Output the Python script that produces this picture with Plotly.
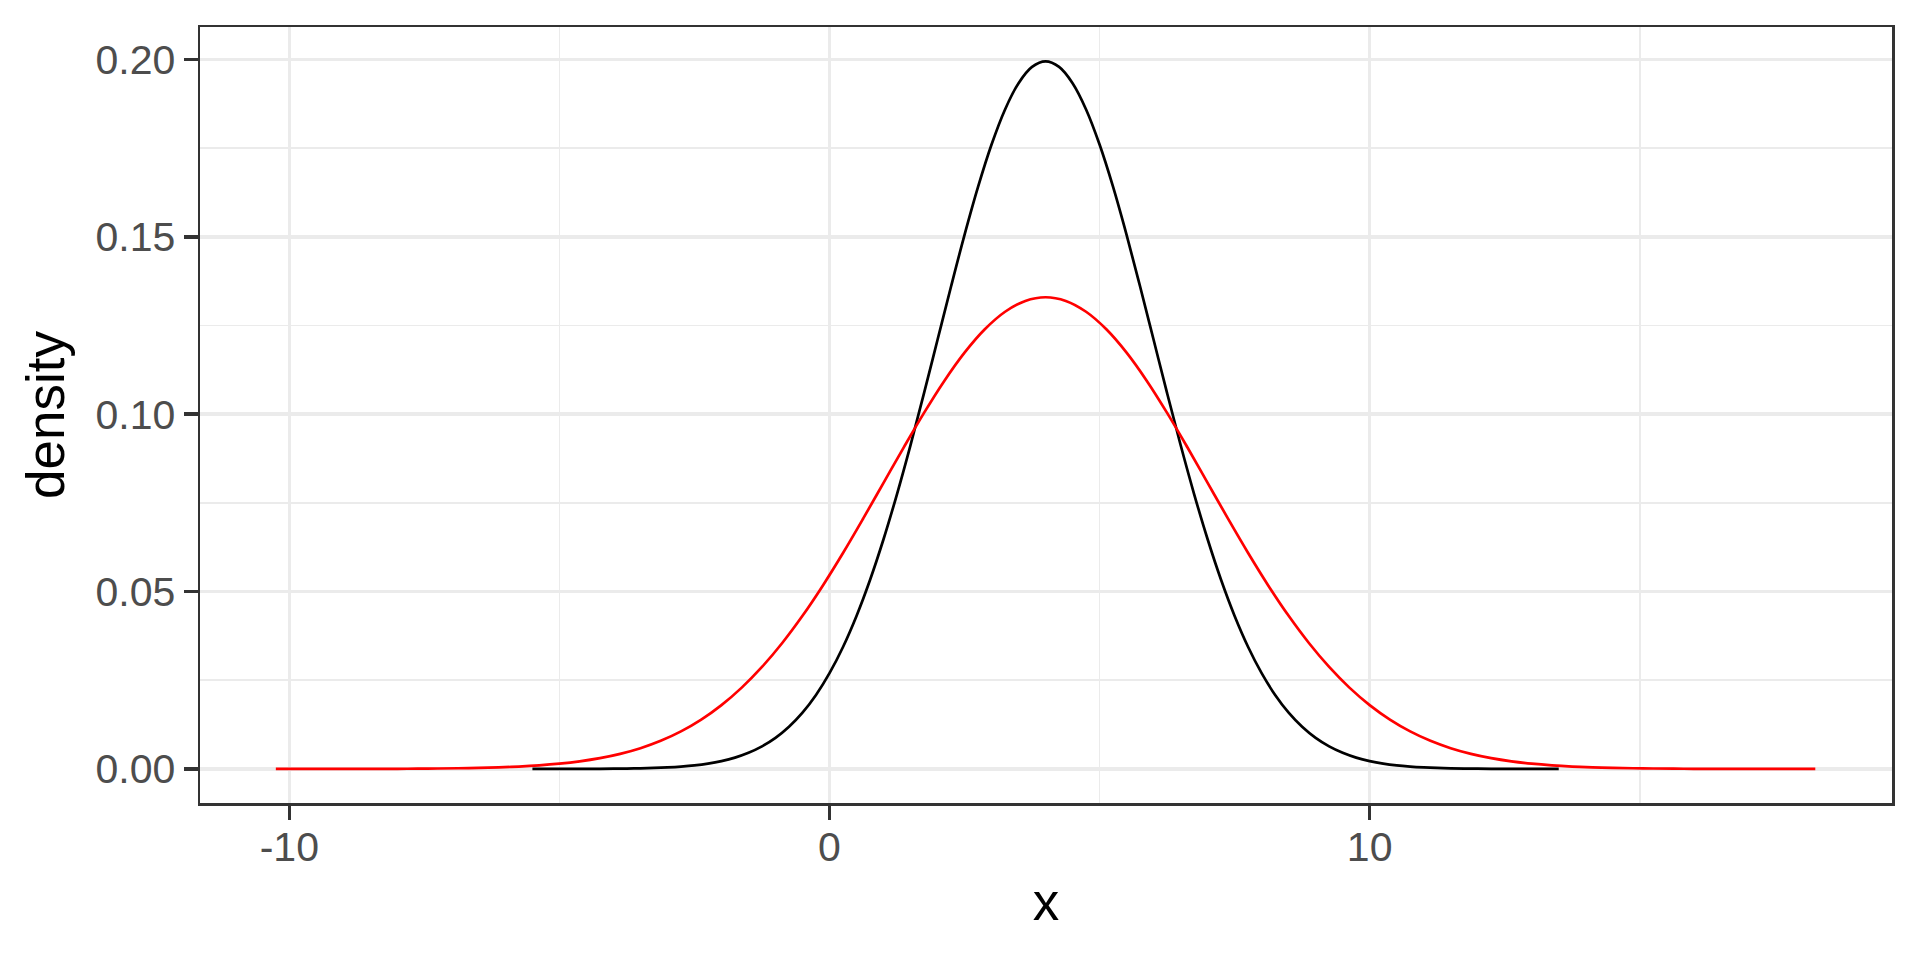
import plotly.graph_objects as go

# Black curve (narrow density)
black_x = [-5.5, -5.25, -5.0, -4.75, -4.5, -4.25, -4.0, -3.75, -3.5, -3.25, -3.0, -2.75, -2.5,
           -2.25, -2.0, -1.75, -1.5, -1.25, -1.0, -0.75, -0.5, -0.25, 0.0, 0.25, 0.5, 0.75,
           1.0, 1.25, 1.5, 1.75, 2.0, 2.25, 2.5, 2.75, 3.0, 3.25, 3.5, 3.75, 4.0, 4.25, 4.5,
           4.75, 5.0, 5.25, 5.5, 5.75, 6.0, 6.25, 6.5, 6.75, 7.0, 7.25, 7.5, 7.75, 8.0, 8.25,
           8.5, 8.75, 9.0, 9.25, 9.5, 9.75, 10.0, 10.25, 10.5, 10.75, 11.0, 11.25, 11.5, 11.75,
           12.0, 12.25, 12.5, 12.75, 13.0, 13.25, 13.5]
black_y = [0.0000025, 0.0000045, 0.000008, 0.000014, 0.000024, 0.000040, 0.000067, 0.00011,
           0.00018, 0.00028, 0.00044, 0.00067, 0.00101, 0.00151, 0.00222, 0.00320, 0.00455,
           0.00636, 0.00876, 0.01189, 0.01587, 0.02086, 0.02700, 0.03439, 0.04314, 0.05327,
           0.06476, 0.07751, 0.09132, 0.10594, 0.12099, 0.13602, 0.15057, 0.16408, 0.17603,
           0.18593, 0.19333, 0.19792, 0.19947, 0.19792, 0.19333, 0.18593, 0.17603, 0.16408,
           0.15057, 0.13602, 0.12099, 0.10594, 0.09132, 0.07751, 0.06476, 0.05327, 0.04314,
           0.03439, 0.02700, 0.02086, 0.01587, 0.01189, 0.00876, 0.00636, 0.00455, 0.00320,
           0.00222, 0.00151, 0.00101, 0.00067, 0.00044, 0.00028, 0.00018, 0.00011, 0.000067,
           0.000040, 0.000024, 0.000014, 0.000008, 0.0000045, 0.0000025]

# Red curve (wide density)
red_x = [-10.25, -9.875, -9.5, -9.125, -8.75, -8.375, -8.0, -7.625, -7.25, -6.875, -6.5,
         -6.125, -5.75, -5.375, -5.0, -4.625, -4.25, -3.875, -3.5, -3.125, -2.75, -2.375,
         -2.0, -1.625, -1.25, -0.875, -0.5, -0.125, 0.25, 0.625, 1.0, 1.375, 1.75, 2.125,
         2.5, 2.875, 3.25, 3.625, 4.0, 4.375, 4.75, 5.125, 5.5, 5.875, 6.25, 6.625, 7.0,
         7.375, 7.75, 8.125, 8.5, 8.875, 9.25, 9.625, 10.0, 10.375, 10.75, 11.125, 11.5,
         11.875, 12.25, 12.625, 13.0, 13.375, 13.75, 14.125, 14.5, 14.875, 15.25, 15.625,
         16.0, 16.375, 16.75, 17.125, 17.5, 17.875, 18.25]
red_y = [0.0000017, 0.0000030, 0.0000053, 0.0000093, 0.000016, 0.000027, 0.000045, 0.000073,
         0.00012, 0.00019, 0.00029, 0.00045, 0.00068, 0.00101, 0.00148, 0.00213, 0.00303,
         0.00424, 0.00584, 0.00792, 0.01058, 0.01391, 0.01800, 0.02293, 0.02876, 0.03551,
         0.04317, 0.05167, 0.06088, 0.07063, 0.08066, 0.09068, 0.10038, 0.10939, 0.11736,
         0.12395, 0.12889, 0.13195, 0.13298, 0.13195, 0.12889, 0.12395, 0.11736, 0.10939,
         0.10038, 0.09068, 0.08066, 0.07063, 0.06088, 0.05167, 0.04317, 0.03551, 0.02876,
         0.02293, 0.01800, 0.01391, 0.01058, 0.00792, 0.00584, 0.00424, 0.00303, 0.00213,
         0.00148, 0.00101, 0.00068, 0.00045, 0.00029, 0.00019, 0.00012, 0.000073, 0.000045,
         0.000027, 0.000016, 0.0000093, 0.0000053, 0.0000030, 0.0000017]

x_ticks = [-10, 0, 10]
x_ticktext = ["-10", "0", "10"]
x_minor = [-5, 5, 15]
y_ticks = [0.00, 0.05, 0.10, 0.15, 0.20]
y_ticktext = ["0.00", "0.05", "0.10", "0.15", "0.20"]
y_minor = [0.025, 0.075, 0.125, 0.175]

X_RANGE = [-11.654, 19.67]
Y_RANGE = [-0.0096, 0.20917]

FONT = "Liberation Sans, Arial, sans-serif"

fig = go.Figure()
# empty traces so the overlay axes (minor grid, tick marks) get drawn
fig.add_trace(go.Scatter(x=[], y=[], xaxis="x2", yaxis="y2", showlegend=False,
                         hoverinfo="skip"))
fig.add_trace(go.Scatter(x=[], y=[], xaxis="x3", yaxis="y3", showlegend=False,
                         hoverinfo="skip"))
fig.add_trace(go.Scatter(x=black_x, y=black_y, mode="lines",
                         line=dict(color="black", width=2.7, shape="spline", smoothing=1.0),
                         showlegend=False, hoverinfo="skip"))
fig.add_trace(go.Scatter(x=red_x, y=red_y, mode="lines",
                         line=dict(color="#FF0000", width=2.7, shape="spline", smoothing=1.0),
                         showlegend=False, hoverinfo="skip"))

axis_common = dict(
    showline=True, linecolor="#333333", linewidth=2.5, mirror=True,
    ticks="outside", ticklen=14, tickwidth=3.5, tickcolor="#333333",
    showgrid=True, gridcolor="#EBEBEB", gridwidth=3.5,
    zeroline=False, automargin=False,
    tickfont=dict(family=FONT, size=41, color="#4D4D4D"),
)

fig.update_layout(
    xaxis=dict(
        **axis_common,
        range=X_RANGE,
        tickvals=x_ticks, ticktext=x_ticktext,
        ticklabelstandoff=-8,
        title=dict(text="x", font=dict(family=FONT, size=53, color="black"), standoff=14),
    ),
    yaxis=dict(
        **axis_common,
        range=Y_RANGE,
        tickvals=y_ticks, ticktext=y_ticktext,
        title=dict(text="density", font=dict(family=FONT, size=53, color="black"), standoff=14),
    ),
    xaxis2=dict(
        overlaying="x", range=X_RANGE, tickvals=x_minor, showticklabels=False, ticks="",
        showgrid=True, gridcolor="#EBEBEB", gridwidth=1.8, zeroline=False, showline=False,
        automargin=False,
    ),
    yaxis2=dict(
        overlaying="y", range=Y_RANGE, tickvals=y_minor, showticklabels=False, ticks="",
        showgrid=True, gridcolor="#EBEBEB", gridwidth=1.8, zeroline=False, showline=False,
        automargin=False,
    ),
    xaxis3=dict(
        overlaying="x", anchor="y", side="bottom", range=X_RANGE, tickvals=x_ticks,
        showticklabels=False, ticks="outside", ticklen=14, tickwidth=3.5,
        tickcolor="#333333", showgrid=False, zeroline=False, showline=False,
        automargin=False,
    ),
    yaxis3=dict(
        overlaying="y", anchor="x", side="left", range=Y_RANGE, tickvals=y_ticks,
        showticklabels=False, ticks="outside", ticklen=14, tickwidth=3.5,
        tickcolor="#333333", showgrid=False, zeroline=False, showline=False,
        automargin=False,
    ),
    width=1920, height=960,
    margin=dict(l=200, r=28, t=27, b=157, pad=0),
    plot_bgcolor="white", paper_bgcolor="white",
)

fig.write_html("out.html",
               config={"displayModeBar": False, "staticPlot": True},
               post_script="document.body.style.margin='0';document.body.style.overflow='hidden';")
